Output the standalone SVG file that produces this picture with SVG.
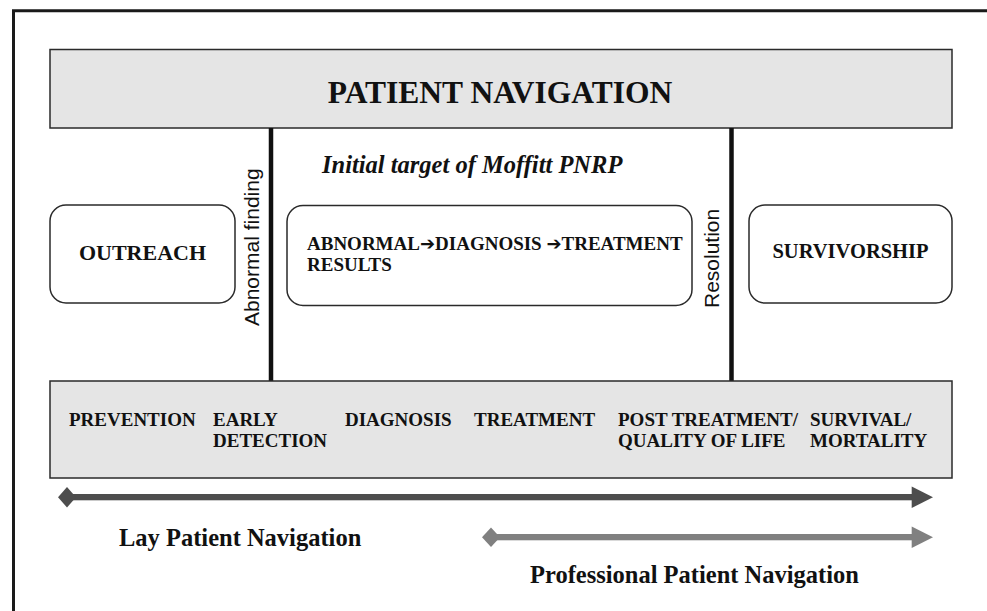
<svg xmlns="http://www.w3.org/2000/svg" width="987" height="611" viewBox="0 0 987 611">
<style>
.frame{fill:none;stroke:#1a1a1a;stroke-width:3}
.band{fill:#e5e5e5;stroke:#2a2a2a;stroke-width:1.5}
.rbox{fill:#fff;stroke:#2a2a2a;stroke-width:1.5}
.vline{stroke:#111;stroke-width:4.5}
.tb{font-family:"Liberation Serif","Times New Roman",serif;font-weight:bold;fill:#111}
.ts{font-family:"Liberation Sans",Arial,sans-serif;fill:#111}
.arw{font-family:"DejaVu Sans",sans-serif;font-weight:normal}
.dark{fill:#4d4d4d}
.light{fill:#808080}
</style>
<rect width="987" height="611" fill="#fff"/>
<path class="frame" d="M13.5 611 V10.7 H987"/>

<g id="patient-navigation">
<rect class="band" x="50" y="49.5" width="902" height="78.5"/>
<text class="tb" x="500" y="103" font-size="31.5" text-anchor="middle">PATIENT NAVIGATION</text>
</g>

<g id="connectors">
<line class="vline" x1="271" y1="128" x2="271" y2="381"/>
<line class="vline" x1="731.5" y1="128" x2="731.5" y2="381"/>
<rect class="dark" x="66" y="494" width="848" height="6.3"/>
<polygon class="dark" points="58,497.2 67,487 76,497.2 67,507.4"/>
<polygon class="dark" points="911.7,486.5 933,497.2 911.7,508"/>
<rect class="light" x="490" y="534" width="424" height="6.3"/>
<polygon class="light" points="482,537.2 491,527.5 500,537.2 491,547"/>
<polygon class="light" points="911.7,526.5 933,537.2 911.7,548"/>
</g>

<g id="abnormal-finding">
<text class="ts" font-size="21" transform="translate(259,326) rotate(-90)">Abnormal finding</text>
</g>
<g id="resolution">
<text class="ts" font-size="21" transform="translate(719,308) rotate(-90)">Resolution</text>
</g>

<g id="initial-target">
<text class="tb" x="322" y="173" font-size="24.5" font-style="italic">Initial target of Moffitt PNRP</text>
</g>

<g id="outreach">
<rect class="rbox" x="50" y="205" width="185" height="98" rx="16"/>
<text class="tb" x="142.5" y="260" font-size="22" text-anchor="middle">OUTREACH</text>
</g>

<g id="abnormal-results">
<rect class="rbox" x="287" y="205.5" width="405" height="100" rx="16"/>
<text class="tb" x="307" y="250" font-size="19">ABNORMAL<tspan class="arw" font-size="18">➔</tspan>DIAGNOSIS <tspan class="arw" font-size="18">➔</tspan>TREATMENT</text>
<text class="tb" x="307" y="271" font-size="19">RESULTS</text>
</g>

<g id="survivorship">
<rect class="rbox" x="749" y="205" width="203" height="98" rx="16"/>
<text class="tb" x="850.5" y="258" font-size="20.5" text-anchor="middle">SURVIVORSHIP</text>
</g>

<g id="continuum">
<rect class="band" x="50" y="381" width="902" height="97"/>
<g class="tb" font-size="19">
<text x="69" y="426">PREVENTION</text>
<text x="213" y="426">EARLY</text>
<text x="213" y="447">DETECTION</text>
<text x="345" y="426">DIAGNOSIS</text>
<text x="474" y="426">TREATMENT</text>
<text x="618" y="426">POST TREATMENT/</text>
<text x="618" y="447">QUALITY OF LIFE</text>
<text x="810" y="426">SURVIVAL/</text>
<text x="810" y="447">MORTALITY</text>
</g>
</g>

<g id="lay-navigation">
<text class="tb" x="119" y="546" font-size="24.5">Lay Patient Navigation</text>
</g>
<g id="professional-navigation">
<text class="tb" x="530" y="583" font-size="24.5">Professional Patient Navigation</text>
</g>
</svg>
